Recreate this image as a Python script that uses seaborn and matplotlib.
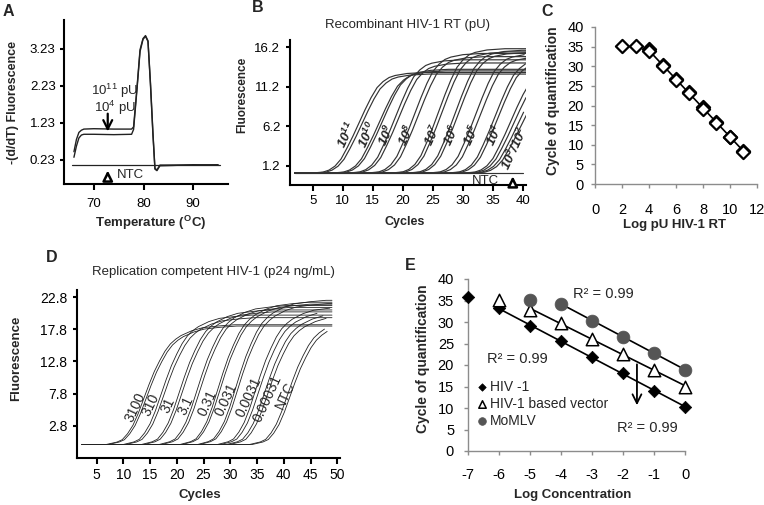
import numpy as np
import pandas as pd
import matplotlib.pyplot as plt
import seaborn as sns

W, H = 764, 505

# ---- panel A: melt curves (-dF/dT vs temperature)
melt_temp = [66.0, 66.5, 67.0, 67.5, 68.0, 70.0, 74.0, 77.6, 78.0, 78.7, 79.3, 79.9, 80.4,
             80.9, 81.4, 81.9, 82.3, 82.7, 83.3, 86.0, 90.0, 95.0]
melt_hi = [0.45, 0.78, 0.97, 1.03, 1.06, 1.07, 1.06, 1.06, 1.12, 2.2, 3.2, 3.5, 3.58,
           3.44, 2.3, 0.95, 0.0, -0.04, 0.09, 0.09, 0.09, 0.1]
melt_lo = [0.3, 0.6, 0.82, 0.9, 0.92, 0.92, 0.91, 0.92, 1.05, 2.15, 3.15, 3.48, 3.56,
           3.42, 2.25, 0.9, -0.02, -0.06, 0.07, 0.08, 0.1, 0.09]
ntc_temp = [65.7, 95.4]
ntc_melt = [0.09, 0.09]

# ---- panel B: amplification curves, recombinant RT dilutions
b_labels = ['10$^{11}$', '10$^{10}$', '10$^{9}$', '10$^{8}$', '10$^{7}$', '10$^{6}$',
            '10$^{5}$', '10$^{4}$', '10$^{3}$/10$^{2}$']
b_mid_rep1 = [12.7, 16.1, 18.8, 22.0, 26.0, 28.8, 32.2, 35.4, 38.0, 39.1]
b_mid_rep2 = [13.2, 16.6, 19.3, 22.6, 26.5, 29.3, 32.9, 35.9, 38.5, 39.6]
b_top_rep1 = [13.0, 13.2, 14.6, 15.4, 16.0, 15.8, 15.4, 14.8, 13.5, 12.5]
b_top_rep2 = [12.8, 13.4, 14.2, 15.0, 15.6, 15.5, 15.0, 14.5, 13.0, 12.0]
b_base = 0.3
b_label_cycle = [10.7, 14.2, 17.3, 20.7, 25.0, 28.2, 31.5, 35.3, 38.7]
b_label_fluor = [5.1, 5.1, 5.1, 5.1, 5.1, 5.1, 5.1, 5.1, 3.4]
# shape of one curve, fraction of plateau vs cycles from the midpoint
b_prof_off = [-8, -6, -5, -4, -3, -2, -1, 0, 1, 2, 3, 4, 5, 6, 8, 11]
b_prof_frac = [0.0, 0.01, 0.03, 0.07, 0.14, 0.25, 0.37, 0.5, 0.63, 0.75, 0.85, 0.91,
               0.95, 0.97, 0.99, 1.0]
b_ntc_cycle = [2.0, 40.0]
b_ntc_fluor = [0.3, 0.3]

# ---- panel C: standard curve
c_log = [2, 3, 4, 4, 5, 5, 6, 6, 7, 7, 8, 8, 9, 9, 10, 10, 11, 11]
c_cq = [35.2, 35.1, 34.3, 33.8, 30.3, 30.0, 26.8, 26.5, 23.4, 23.1, 19.6, 19.1,
        15.9, 15.6, 12.1, 11.9, 8.4, 8.1]

# ---- panel D: amplification curves, replication competent HIV-1
d_labels = ['3100', '310', '31', '3.1', '0.31', '0.031', '0.0031', '0.00031', 'NTC']
d_mid_rep1 = [14.8, 18.0, 21.4, 24.7, 28.6, 31.9, 35.6, 37.3, 41.6]
d_mid_rep2 = [15.2, 18.5, 21.9, 25.2, 29.0, 32.3, 36.2, 37.9, 42.1]
d_top_rep1 = [18.5, 20.0, 20.8, 21.5, 22.0, 22.3, 21.3, 20.4, 19.6]
d_top_rep2 = [18.3, 19.6, 20.5, 21.2, 21.7, 21.8, 20.8, 20.0, 19.2]
d_base = -0.1
d_label_cycle = [12.3, 15.1, 18.3, 21.6, 25.7, 29.3, 33.5, 37.0, 40.3]
d_label_fluor = [5.7, 6.0, 6.0, 6.0, 6.4, 6.8, 7.3, 7.1, 7.6]
d_prof_off = [-8, -6, -5, -4, -3, -2, -1, 0, 1, 2, 3, 4, 5, 6, 8, 10, 13, 16]
d_prof_frac = [0.0, 0.02, 0.04, 0.09, 0.16, 0.26, 0.38, 0.5, 0.61, 0.7, 0.78, 0.84,
               0.88, 0.91, 0.95, 0.975, 0.99, 1.0]

# ---- panel E: standard curves for three viruses
e_hiv_log = [-7, -6, -5, -4, -3, -2, -1, 0]
e_hiv_cq = [35.7, 33.2, 29.1, 25.5, 21.8, 18.1, 14.0, 10.3]
e_vec_log = [-6, -5, -4, -3, -2, -1, 0]
e_vec_cq = [35.1, 32.9, 29.8, 26.0, 22.6, 18.8, 15.0]
e_mom_log = [-5, -4, -3, -2, -1, 0]
e_mom_cq = [35.1, 34.2, 30.3, 26.6, 22.9, 18.8]


def amp_frame(mids, tops, base, off, frac, start, stop):
    rows = []
    for i, (mid, top) in enumerate(zip(mids, tops)):
        xs = [start] + [mid + o for o in off]
        fs = [0.0] + list(frac)
        if xs[-1] < stop:
            xs.append(stop)
            fs.append(frac[-1])
        for x, f in zip(xs, fs):
            if x <= stop:
                rows.append((i, x, base + (top - base) * f))
    return pd.DataFrame(rows, columns=['curve', 'cycle', 'fluor'])


def box(left, top, right, bottom):
    return fig.add_axes([left / W, 1 - bottom / H, (right - left) / W, (bottom - top) / H])


def style_axes(ax, spine_color, spine_lw):
    sns.despine(ax=ax)
    for s in ['left', 'bottom']:
        ax.spines[s].set_color(spine_color)
        ax.spines[s].set_linewidth(spine_lw)
    ax.tick_params(colors=spine_color, labelcolor='black', width=spine_lw)


def place_labels(ax, xl, yl):
    # label centres in axes coordinates
    ax.xaxis.set_label_coords(*xl)
    ax.yaxis.set_label_coords(*yl)
    ax.xaxis.label.set_va('center')
    ax.yaxis.label.set_va('center')


sns.set_style("ticks")
plt.rcParams['font.family'] = ['Liberation Sans', 'DejaVu Sans']
plt.rcParams['mathtext.default'] = 'regular'
plt.rcParams['axes.unicode_minus'] = False

fig = plt.figure(figsize=(W / 100, H / 100), dpi=100)

# ================= A =================
ax = box(64, 20, 228, 184)
melt = pd.DataFrame({'temp': melt_temp + melt_temp, 'val': melt_hi + melt_lo,
                     'rep': [0] * len(melt_temp) + [1] * len(melt_temp)})
sns.lineplot(data=melt, x='temp', y='val', units='rep', estimator=None,
             color='#222222', lw=1.0, ax=ax)
sns.lineplot(x=ntc_temp, y=ntc_melt, color='#222222', lw=0.9, ax=ax)
ax.set_xlim(64, 97)
ax.set_ylim(-0.42, 4.0)
ax.set_xticks([70, 80, 90])
ax.set_yticks([0.23, 1.23, 2.23, 3.23])
ax.set_yticklabels(['0.23', '1.23', '2.23', '3.23'])
style_axes(ax, 'black', 1.5)
ax.tick_params(axis='x', length=4, pad=6, labelsize=9.5)
ax.tick_params(axis='y', length=3, pad=3, labelsize=9.5)
ax.set_xlabel('Temperature ($^{O}$C)', fontsize=9.5, fontweight='bold')
ax.set_ylabel('-(d/dT) Fluorescence', fontsize=9, fontweight='bold')
place_labels(ax, (0.53, -0.238), (-0.311, 0.5))
ax.text(74.2, 2.08, '10$^{11}$ pU', fontsize=9.5, ha='center', va='center')
ax.text(74.2, 1.63, '10$^{4}$ pU', fontsize=9.5, ha='center', va='center')
ax.annotate('', xy=(72.8, 0.92), xytext=(72.8, 1.55),
            arrowprops=dict(arrowstyle='->', lw=1.6, color='black', mutation_scale=16))
ax.annotate('', xy=(72.8, 0.02), xytext=(72.8, -0.4),
            arrowprops=dict(arrowstyle='-|>', lw=1.8, color='black', mutation_scale=15,
                            fc='white'))
ax.text(74.6, -0.18, 'NTC', fontsize=9.5, ha='left', va='center')

# ================= B =================
ax = box(290, 40, 526, 185)
b1 = amp_frame(b_mid_rep1, b_top_rep1, b_base, b_prof_off, b_prof_frac, 2.0, 41.0)
b2 = amp_frame(b_mid_rep2, b_top_rep2, b_base, b_prof_off, b_prof_frac, 2.0, 41.0)
b2['curve'] += 100
bdf = pd.concat([b1, b2])
sns.lineplot(data=bdf, x='cycle', y='fluor', units='curve', estimator=None,
             color='#333333', lw=0.85, sort=False, ax=ax)
sns.lineplot(x=b_ntc_cycle, y=b_ntc_fluor, color='#333333', lw=0.85, ax=ax)
ax.set_xlim(1.2, 40.5)
ax.set_ylim(-1.2, 17.1)
ax.set_xticks(range(5, 45, 5))
ax.set_yticks([1.2, 6.2, 11.2, 16.2])
ax.set_yticklabels(['1.2', '6.2', '11.2', '16.2'])
style_axes(ax, 'black', 1.5)
ax.tick_params(axis='x', length=4, pad=3, labelsize=9.5)
ax.tick_params(axis='y', length=3, pad=4, labelsize=9.5)
ax.set_xlabel('Cycles', fontsize=9, fontweight='bold')
ax.set_ylabel('Fluorescence', fontsize=8.5, fontweight='bold')
place_labels(ax, (0.487, -0.255), (-0.203, 0.62))
ax.text(0.496, 1.103, 'Recombinant HIV-1 RT (pU)', fontsize=9.5, ha='center',
        va='center', transform=ax.transAxes)
for lab, cx, cy in zip(b_labels, b_label_cycle, b_label_fluor):
    ax.text(cx, cy, lab, fontsize=9.5, fontstyle='italic', fontweight='bold',
            rotation=65, ha='center', va='center')
ax.text(33.8, -0.75, 'NTC', fontsize=9.5, ha='center', va='center')
ax.annotate('', xy=(38.3, 0.25), xytext=(38.3, -1.2),
            arrowprops=dict(arrowstyle='-|>', lw=1.8, color='black', mutation_scale=15,
                            fc='white'), annotation_clip=False)

# ================= C =================
ax = box(595, 27, 757, 184)
cdf = pd.DataFrame({'log': c_log, 'cq': c_cq})
sns.regplot(data=cdf[cdf['log'] >= 4], x='log', y='cq', ci=None, scatter=False,
            color='black', line_kws={'lw': 1.2}, ax=ax)
sns.scatterplot(data=cdf, x='log', y='cq', marker='D', s=45, facecolor='white',
                edgecolor='black', linewidth=1.6, clip_on=False, zorder=3, ax=ax)
ax.set_xlim(0, 12)
ax.set_ylim(0, 40)
ax.set_xticks(range(0, 14, 2))
ax.set_yticks(range(0, 45, 5))
style_axes(ax, '#8c8c8c', 1.0)
ax.tick_params(axis='x', length=3, pad=11, labelsize=10.5)
ax.tick_params(axis='y', length=3, pad=5, labelsize=10.5)
ax.set_xlabel('Log pU HIV-1 RT', fontsize=9.5, fontweight='bold')
ax.set_ylabel('Cycle of quantification', fontsize=10, fontweight='bold')
place_labels(ax, (0.49, -0.262), (-0.26, 0.53))

# ================= D =================
ax = box(77, 290, 340, 458)
d1 = amp_frame(d_mid_rep1, d_top_rep1, d_base, d_prof_off, d_prof_frac, 2.3, 49.0)
d2 = amp_frame(d_mid_rep2, d_top_rep2, d_base, d_prof_off, d_prof_frac, 2.3, 49.0)
d2['curve'] += 100
ddf = pd.concat([d1, d2])
sns.lineplot(data=ddf, x='cycle', y='fluor', units='curve', estimator=None,
             color='#222222', lw=0.6, sort=False, ax=ax)
ax.set_xlim(1.35, 50.5)
ax.set_ylim(-2.2, 23.9)
ax.set_xticks(range(5, 55, 5))
ax.set_yticks([2.8, 7.8, 12.8, 17.8, 22.8])
ax.set_yticklabels(['2.8', '7.8', '12.8', '17.8', '22.8'])
style_axes(ax, 'black', 1.5)
ax.tick_params(axis='x', length=4, pad=3, labelsize=10)
ax.tick_params(axis='y', length=3, pad=4, labelsize=10)
ax.set_xlabel('Cycles', fontsize=9.5, fontweight='bold')
ax.set_ylabel('Fluorescence', fontsize=9.5, fontweight='bold')
place_labels(ax, (0.468, -0.22), (-0.232, 0.595))
ax.text(0.517, 1.107, 'Replication competent HIV-1 (p24 ng/mL)', fontsize=9.5,
        ha='center', va='center', transform=ax.transAxes)
for lab, cx, cy in zip(d_labels, d_label_cycle, d_label_fluor):
    ax.text(cx, cy, lab, fontsize=10, rotation=65, ha='center', va='center')

# ================= E =================
ax = box(468, 279, 685, 451)
for lx, cq, first in [(e_hiv_log, e_hiv_cq, -6), (e_vec_log, e_vec_cq, -5),
                      (e_mom_log, e_mom_cq, -4)]:
    edf = pd.DataFrame({'log': lx, 'cq': cq})
    sns.regplot(data=edf[edf['log'] >= first], x='log', y='cq', ci=None, scatter=False,
                color='black', line_kws={'lw': 1.2}, ax=ax)
sns.scatterplot(x=e_hiv_log, y=e_hiv_cq, marker='D', s=40, color='black',
                edgecolor='black', linewidth=0.5, clip_on=False, zorder=3,
                label='HIV -1', ax=ax)
sns.scatterplot(x=e_vec_log, y=e_vec_cq, marker='^', s=80, facecolor='white',
                edgecolor='black', linewidth=1.1, clip_on=False, zorder=3,
                label='HIV-1 based vector', ax=ax)
sns.scatterplot(x=e_mom_log, y=e_mom_cq, marker='o', s=85, color='#555555',
                edgecolor='#555555', linewidth=0.5, clip_on=False, zorder=3,
                label='MoMLV', ax=ax)
ax.set_xlim(-7, 0)
ax.set_ylim(0, 40)
ax.set_xticks(range(-7, 1))
ax.set_yticks(range(0, 45, 5))
style_axes(ax, '#8c8c8c', 1.0)
ax.tick_params(axis='x', length=3, pad=9, labelsize=10.5)
ax.tick_params(axis='y', length=3, pad=7, labelsize=10.5)
ax.set_xlabel('Log Concentration', fontsize=9.5, fontweight='bold')
ax.set_ylabel('Cycle of quantification', fontsize=10, fontweight='bold')
place_labels(ax, (0.484, -0.256), (-0.207, 0.535))
ax.legend(loc='lower left', bbox_to_anchor=(0.0, 0.08), frameon=False, fontsize=10,
          markerscale=0.6, handlelength=0.6, handletextpad=0.3, labelspacing=0.2,
          borderpad=0.2)
ax.text(-3.6, 36.5, 'R² = 0.99', fontsize=10.5, ha='left', va='center')
ax.text(-6.4, 21.4, 'R² = 0.99', fontsize=10.5, ha='left', va='center')
ax.text(-2.2, 5.3, 'R² = 0.99', fontsize=10.5, ha='left', va='center')
ax.annotate('', xy=(-1.55, 10.0), xytext=(-1.55, 20.8),
            arrowprops=dict(arrowstyle='->', lw=1.3, color='black', mutation_scale=16))

# panel letters
for letter, px, py in [('A', 8, 12), ('B', 258, 8), ('C', 547, 12), ('D', 52, 257),
                       ('E', 410, 265)]:
    fig.text(px / W, 1 - py / H, letter, fontsize=11.5, fontweight='bold',
             ha='center', va='center')

fig.savefig('out.png', dpi=100)
